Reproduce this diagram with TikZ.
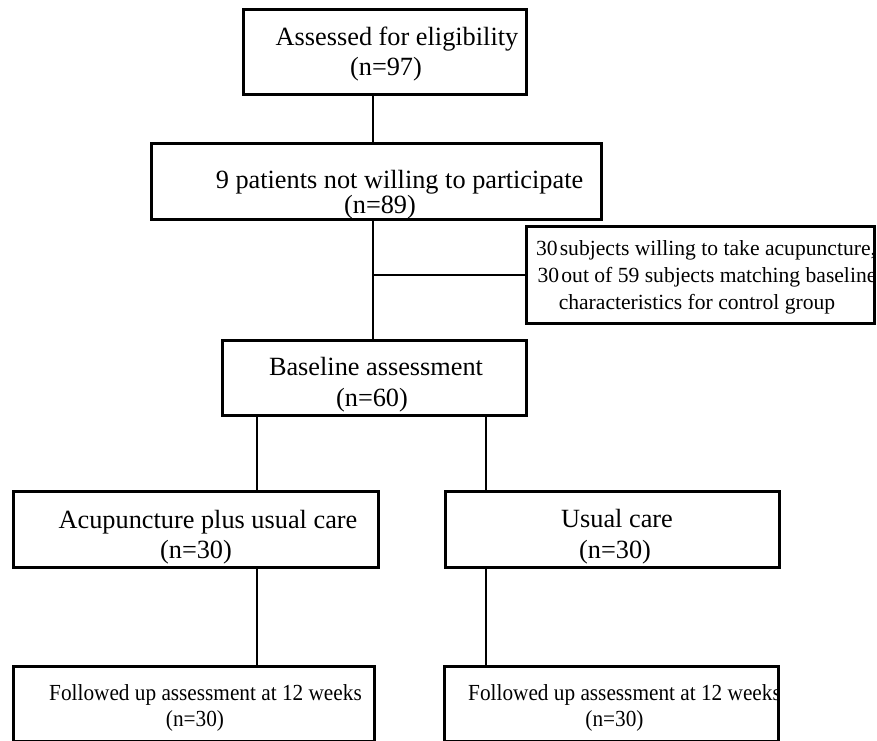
\documentclass[tikz,border=0pt]{standalone}
\usepackage{fontspec}
\setmainfont{Liberation Serif}
\newcommand{\narrowtext}[1]{\scalebox{0.925}[1]{#1}}
\begin{document}
\begin{tikzpicture}[x=1pt,y=-1pt,
  box/.style={draw, line width=2.8pt, inner sep=0pt, anchor=north west},
  conn/.style={line width=2.3pt},
  big/.style={anchor=base, inner sep=0pt, font=\fontsize{26.3}{30}\selectfont},
  mid/.style={anchor=base, inner sep=0pt, font=\fontsize{21.6}{26}\selectfont},
  small/.style={anchor=base, inner sep=0pt, font=\fontsize{23}{26}\selectfont}]
\useasboundingbox (0,0) rectangle (877,740);
% boxes
\node[box, minimum width=283, minimum height=85] (b1) at (242,8) {};
\node[box, minimum width=450, minimum height=76] (b2) at (150,142) {};
\node[box, minimum width=348, minimum height=97] (side) at (525,225) {};
\node[box, minimum width=304, minimum height=75] (b3) at (221,339) {};
\node[box, minimum width=365, minimum height=76] (b4) at (12,490) {};
\node[box, minimum width=334, minimum height=76] (b5) at (444,490) {};
\node[box, minimum width=361, minimum height=74.5] (b6) at (12,665) {};
\node[box, minimum width=334, minimum height=74.5] (b7) at (443,665) {};
% texts
\node[big] (t1a) at (397,45) {Assessed for eligibility};
\node[big] (t1b) at (386,75) {(n=97)};
\node[big] (t2a) at (399.5,188) {9 patients not willing to participate};
\node[big] (t2b) at (380,213) {(n=89)};
\node[mid] (tsa) at (706,255) {30\hspace{0.1em}subjects willing to take acupuncture,};
\node[mid] (tsb) at (707,282) {30\hspace{0.1em}out of 59 subjects matching baseline};
\node[mid] (tsc) at (697,309) {characteristics for control group};
\node[big] (t3a) at (376,375) {Baseline assessment};
\node[big] (t3b) at (372,406) {(n=60)};
\node[big] (t4a) at (208,528) {Acupuncture plus usual care};
\node[big] (t4b) at (196,558) {(n=30)};
\node[big] (t5a) at (617,527) {Usual care};
\node[big] (t5b) at (615,558) {(n=30)};
\node[small] (t6a) at (205.5,700) {\narrowtext{Followed up assessment at 12 weeks}};
\node[small] (t6b) at (195,726) {\narrowtext{(n=30)}};
\node[small] (t7a) at (624.5,700) {\narrowtext{Followed up assessment at 12 weeks}};
\node[small] (t7b) at (614.5,726) {\narrowtext{(n=30)}};
% connectors
\coordinate (mx) at (373,0);
\coordinate (lx) at (257,0);
\coordinate (rx) at (486,0);
\draw[conn] (mx |- b1.south) -- (mx |- b2.north);
\draw[conn] (mx |- b2.south) -- (mx |- b3.north);
\draw[conn] (mx |- side.west) -- (side.west);
\draw[conn] (lx |- b3.south) -- (lx |- b4.north);
\draw[conn] (rx |- b3.south) -- (rx |- b5.north);
\draw[conn] (lx |- b4.south) -- (lx |- b6.north);
\draw[conn] (rx |- b5.south) -- (rx |- b7.north);
\end{tikzpicture}
\end{document}
